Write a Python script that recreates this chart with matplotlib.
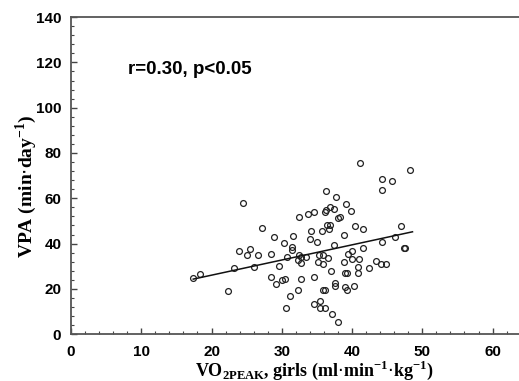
import numpy as np
import matplotlib
matplotlib.use("Agg")
from matplotlib import pyplot as plt
from matplotlib import ticker

# VO2peak (ml/min/kg) and VPA (min/day) for girls
vo2 = [17.4, 18.4, 22.4, 23.2, 23.9, 24.5, 25.1, 25.5, 26.1, 26.6,
       27.2, 28.4, 28.5, 28.9, 29.2, 29.6, 30.0, 30.3, 30.4, 30.6,
       30.8, 31.2, 31.4, 31.5, 31.6, 32.4, 32.3, 32.4, 32.3, 32.7,
       32.8, 32.8, 33.5, 33.8, 34.0, 34.2, 34.6, 34.6, 34.6, 35.0,
       35.1, 35.3, 35.4, 35.4, 35.7, 35.8, 35.8, 35.9, 36.1, 36.2,
       36.3, 36.3, 36.4, 36.2, 36.6, 36.7, 36.8, 36.9, 37.0, 37.1,
       37.5, 37.5, 37.6, 37.6, 37.7, 38.0, 38.0, 38.3, 38.8, 38.9,
       39.0, 39.1, 39.0, 39.3, 39.3, 39.4, 39.8, 40.0, 40.0, 40.3,
       40.4, 40.8, 40.9, 41.0, 41.1, 41.5, 41.5, 42.4, 43.4, 44.1,
       44.3, 44.3, 44.3, 44.8, 45.7, 46.1, 46.9, 47.4, 47.6, 48.2]
vpa = [24.6, 26.5, 19.0, 29.3, 36.7, 57.9, 34.9, 37.4, 29.8, 34.8,
       46.9, 25.2, 35.4, 42.7, 22.3, 30.2, 23.7, 40.1, 24.3, 11.6,
       34.0, 16.7, 37.1, 38.5, 43.2, 51.9, 19.6, 34.9, 32.6, 24.2,
       31.2, 33.9, 33.9, 52.9, 41.9, 45.5, 53.8, 25.3, 13.4, 40.5,
       31.7, 34.9, 14.6, 11.6, 45.7, 30.8, 19.5, 34.9, 11.6, 53.9,
       54.8, 63.1, 48.2, 19.5, 33.7, 46.3, 48.0, 56.3, 27.9, 8.8,
       39.5, 55.1, 22.7, 21.4, 60.6, 51.1, 5.3, 51.7, 43.9, 32.0,
       27.1, 57.3, 20.6, 27.1, 19.5, 35.4, 54.2, 36.8, 33.2, 21.4,
       47.7, 27.1, 29.8, 33.0, 75.7, 46.6, 37.9, 29.3, 32.1, 30.8,
       68.7, 63.5, 40.5, 30.8, 67.5, 42.7, 47.9, 38.0, 38.0, 72.5]

# regression line end points
fit_x = [17.4, 48.6]
fit_y = [24.3, 45.2]

fig = plt.figure(figsize=(5.19, 3.81), dpi=100)
ax = fig.add_axes([0.1368, 0.123, 0.88, 0.832])

ax.plot(vo2, vpa, 'o', mfc='none', mec='#222222', ms=4.2, mew=0.9)
ax.plot(fit_x, fit_y, '-', color='#111111', lw=1.1)

ax.set_xlim(0, 65)
ax.set_ylim(0, 140)
ax.xaxis.set_major_locator(ticker.MultipleLocator(10))
ax.xaxis.set_minor_locator(ticker.MultipleLocator(2))
ax.yaxis.set_major_locator(ticker.MultipleLocator(20))
ax.yaxis.set_minor_locator(ticker.MultipleLocator(4))
ax.tick_params(which='both', direction='in', colors='#444444',
               labelcolor='black')
ax.tick_params(which='major', length=4, width=1)
ax.tick_params(axis='y', which='major', pad=7)
ax.tick_params(axis='x', which='major', pad=8)
ax.tick_params(which='minor', length=2, width=0.8)
for lab in ax.get_xticklabels() + ax.get_yticklabels():
    lab.set_fontweight('bold')
    lab.set_fontsize(11)
    lab.set_family('Liberation Sans')
for sp in ax.spines.values():
    sp.set_color('#555555')
    sp.set_linewidth(1.3)

ax.text(8.1, 116.7, 'r=0.30, p<0.05', fontsize=13.5, fontweight='bold',
        family='Liberation Sans', va='center', ha='left')

ax.set_xlabel(r'VO$_{\mathregular{2PEAK}}$, girls (ml$\cdot$min$^{\mathregular{-1}}$$\cdot$kg$^{\mathregular{-1}}$)',
              family='Liberation Serif', fontweight='bold', fontsize=13)
ax.set_ylabel(r'VPA (min$\cdot$day$^{\mathregular{-1}}$)',
              family='Liberation Serif', fontweight='bold', fontsize=14)
ax.xaxis.set_label_coords(0.532, -0.113)
ax.yaxis.set_label_coords(-0.0985, 0.467)
ax.xaxis.label.set_va('center')
ax.yaxis.label.set_va('center')

plt.savefig('out.png', dpi=100)
